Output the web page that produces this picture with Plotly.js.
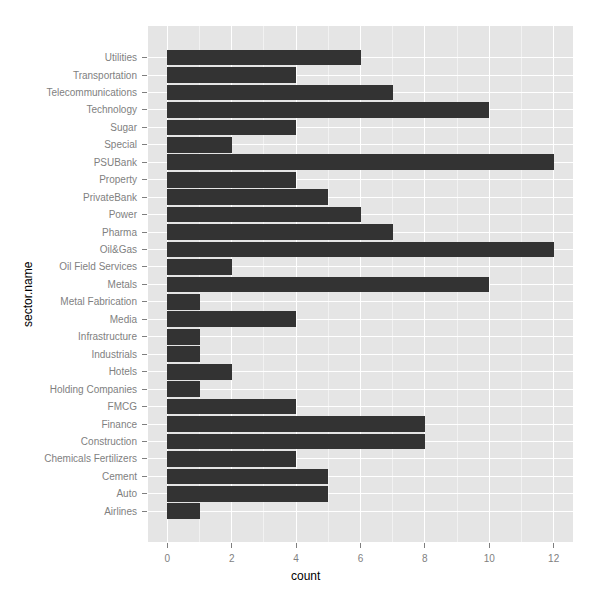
<!DOCTYPE html>
<html>
<head>
<meta charset="utf-8">
<script src="https://cdn.plot.ly/plotly-3.0.1.min.js"></script>
<style>html,body{margin:0;padding:0;background:#fff;}#chart{width:600px;height:600px;}</style>
</head>
<body>
<div id="chart"></div>
<script>
// Sectors, bottom to top
const sectors = ["Airlines","Auto","Cement","Chemicals Fertilizers","Construction","Finance","FMCG",
  "Holding Companies","Hotels","Industrials","Infrastructure","Media","Metal Fabrication","Metals",
  "Oil Field Services","Oil&Gas","Pharma","Power","PrivateBank","Property","PSUBank","Special",
  "Sugar","Technology","Telecommunications","Transportation","Utilities"];
const counts = [1,5,5,4,8,8,4,1,2,1,1,4,1,10,2,12,7,6,5,4,12,2,4,10,7,4,6];
const xTickVals = [0,2,4,6,8,10,12];

const trace = {
  type: 'bar',
  orientation: 'h',
  x: counts,
  y: sectors,
  width: 0.9,
  marker: {color: '#333333', line: {width: 0}},
  hoverinfo: 'x+y'
};

const layout = {
  width: 600, height: 600,
  margin: {l: 148, r: 27, t: 26, b: 58, pad: 0},
  paper_bgcolor: '#ffffff',
  plot_bgcolor: '#e5e5e5',
  showlegend: false,
  bargap: 0,
  font: {family: 'Liberation Sans, Arial, sans-serif'},
  xaxis: {
    range: [-0.6, 12.6],
    tickmode: 'array', tickvals: xTickVals, ticktext: xTickVals.map(String),
    showgrid: true, gridcolor: '#ffffff', gridwidth: 1,
    minor: {dtick: 1, tick0: 0, showgrid: true, gridcolor: '#f2f2f2', gridwidth: 1, ticks: ''},
    zeroline: false, showline: false,
    ticks: 'outside', ticklen: 5, tickcolor: '#7f7f7f', tickwidth: 1,
    ticklabelstandoff: 2,
    tickfont: {size: 10, color: '#7f7f7f'},
    fixedrange: true
  },
  yaxis: {
    type: 'category',
    categoryorder: 'array', categoryarray: sectors,
    range: [-1.76, 27.81],
    showgrid: true, gridcolor: '#ffffff', gridwidth: 1,
    zeroline: false, showline: false,
    ticks: 'outside', ticklen: 5, tickcolor: '#7f7f7f', tickwidth: 1,
    ticklabelstandoff: 3,
    tickfont: {size: 10, color: '#7f7f7f'},
    fixedrange: true
  },
  annotations: [
    {text: 'count', xref: 'paper', yref: 'paper', x: (305.5-148)/425, y: -(576-542)/516,
     showarrow: false, xanchor: 'center', yanchor: 'middle',
     font: {size: 12, color: '#000000'}},
    {text: 'sector.name', xref: 'paper', yref: 'paper', x: -(148-28)/425, y: (542-294)/516,
     showarrow: false, xanchor: 'center', yanchor: 'middle', textangle: -90,
     font: {size: 12, color: '#000000'}}
  ]
};

Plotly.newPlot('chart', [trace], layout, {displayModeBar: false, staticPlot: true});
</script>
</body>
</html>
